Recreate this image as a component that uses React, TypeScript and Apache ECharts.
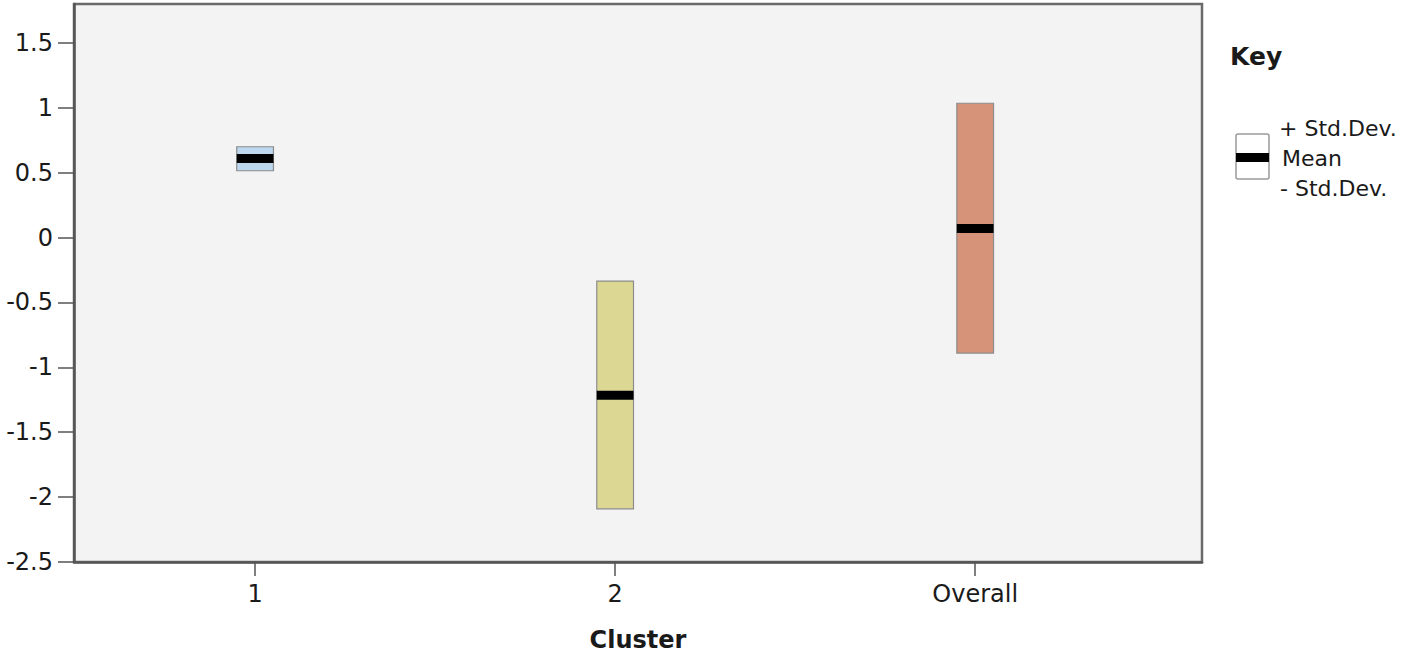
import React, { useEffect, useRef } from "react";
import * as echarts from "echarts";

const categories = ["1", "2", "Overall"];
const meanValues = [0.61, -1.215, 0.07];
const upperValues = [0.7, -0.335, 1.035];
const lowerValues = [0.515, -2.09, -0.89];
const boxColors = ["#bcd7ee", "#dcd894", "#d7937a"];
const yTicks = [-2.5, -2, -1.5, -1, -0.5, 0, 0.5, 1, 1.5];
const keyLabels = ["+ Std.Dev.", "Mean", "- Std.Dev."];

const FONT = "DejaVu Sans, Liberation Sans, Arial, sans-serif";

export default function App() {
  const ref = useRef<HTMLDivElement>(null);
  useEffect(() => {
    if (!ref.current) return;
    const chart = echarts.init(ref.current, null, { renderer: "svg" });
    const data = categories.map((c, i) => [i, lowerValues[i], meanValues[i], upperValues[i]]);
    chart.setOption({
      animation: false,
      backgroundColor: "#ffffff",
      grid: {
        left: 74,
        top: 4,
        right: 203,
        bottom: 93,
        show: true,
        backgroundColor: "#f3f3f3",
        borderColor: "#6a6a6a",
        borderWidth: 2.5,
      },
      xAxis: {
        type: "value",
        min: -0.503,
        max: 2.63,
        splitLine: { show: false },
        axisLine: { show: true, onZero: false, lineStyle: { color: "#555", width: 2.5 } },
        axisTick: { show: true, length: 14, customValues: [0, 1, 2], lineStyle: { color: "#555", width: 1.5 } },
        axisLabel: {
          customValues: [0, 1, 2],
          formatter: (v: number) => categories[Math.round(v)] ?? "",
          fontFamily: FONT,
          fontSize: 24,
          color: "#1a1a1a",
          margin: 20,
        },
        name: "Cluster",
        nameLocation: "middle",
        nameGap: 66,
        nameTextStyle: { fontFamily: FONT, fontSize: 24, fontWeight: "bold", color: "#1a1a1a" },
      },
      yAxis: {
        type: "value",
        min: -2.5,
        max: 1.8,
        splitLine: { show: false },
        axisLine: { show: true, onZero: false, lineStyle: { color: "#555", width: 2.5 } },
        axisTick: { show: true, length: 16, customValues: yTicks, lineStyle: { color: "#555", width: 1.5 } },
        axisLabel: {
          customValues: yTicks,
          fontFamily: FONT,
          fontSize: 24,
          color: "#1a1a1a",
          margin: 21,
        },
      },
      series: [
        {
          type: "custom",
          data,
          renderItem: (params: any, api: any) => {
            const idx = api.value(0);
            const lo = api.value(1);
            const mean = api.value(2);
            const hi = api.value(3);
            const x = api.coord([idx, 0])[0];
            const yLo = api.coord([idx, lo])[1];
            const yHi = api.coord([idx, hi])[1];
            const yMean = api.coord([idx, mean])[1];
            const w = api.size([1, 0])[0] * 0.102;
            return {
              type: "group",
              children: [
                {
                  type: "rect",
                  shape: { x: x - w / 2, y: yHi, width: w, height: yLo - yHi },
                  style: { fill: boxColors[idx], stroke: "#8c8c8c", lineWidth: 1.2 },
                },
                {
                  type: "rect",
                  shape: { x: x - w / 2, y: yMean - 4.5, width: w, height: 9 },
                  style: { fill: "#000000" },
                },
              ],
            };
          },
        },
      ],
      graphic: [
        {
          type: "text",
          left: 1230,
          top: 44,
          style: { text: "Key", fontFamily: FONT, fontSize: 25, fontWeight: "bold", fill: "#1a1a1a" },
        },
        {
          type: "rect",
          shape: { x: 1236, y: 134, width: 33, height: 45, r: 2 },
          style: { fill: "#ffffff", stroke: "#9a9a9a", lineWidth: 1.5 },
        },
        {
          type: "rect",
          shape: { x: 1236, y: 153, width: 33, height: 9 },
          style: { fill: "#000000" },
        },
        {
          type: "text",
          x: 1279,
          y: 128,
          style: { text: keyLabels[0], fontFamily: FONT, fontSize: 22, fill: "#1a1a1a", verticalAlign: "middle" },
        },
        {
          type: "text",
          x: 1282,
          y: 158,
          style: { text: keyLabels[1], fontFamily: FONT, fontSize: 22, fill: "#1a1a1a", verticalAlign: "middle" },
        },
        {
          type: "text",
          x: 1280,
          y: 188,
          style: { text: keyLabels[2], fontFamily: FONT, fontSize: 22, fill: "#1a1a1a", verticalAlign: "middle" },
        },
      ],
    });
    return () => chart.dispose();
  }, []);
  return (
    <div
      ref={ref}
      style={{ position: "absolute", left: 0, top: 0, width: 1405, height: 657 }}
    />
  );
}
